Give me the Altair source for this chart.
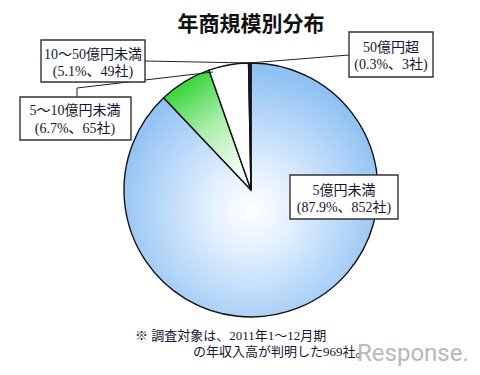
import altair as alt
import pandas as pd

categories = ["5億円未満", "5〜10億円未満", "10〜50億円未満", "50億円超"]
companies = [852, 65, 49, 3]
percents = [87.9, 6.7, 5.1, 0.3]
order = [1, 2, 3, 4]

df = pd.DataFrame({"cat": categories, "count": companies, "pct": percents, "order": order})

OX, OY = 8, 8  # page margin offset
CX, CY, R = 251 - OX, 190 - OY, 127

JP = "Liberation Serif, Noto Sans CJK JP"
TXT = "#15152e"

def slice_layer(cat, fill):
    return alt.Chart(df).transform_window(
        cum="sum(count)", sort=[alt.SortField("order")], frame=[None, 0]
    ).transform_joinaggregate(total="sum(count)").transform_calculate(
        t0="(datum.cum - datum.count) / datum.total * 2 * PI",
        t1="datum.cum / datum.total * 2 * PI",
    ).transform_filter(alt.datum.cat == cat).mark_arc(
        radius=R, fill=fill, stroke="#111111", strokeWidth=1.4
    ).encode(
        theta=alt.Theta("t0:Q", scale=None),
        theta2=alt.Theta2("t1:Q"),
        x=alt.value(CX), y=alt.value(CY),
    )

blue = {"gradient": "radial", "x1": 0.5, "y1": 0.58, "r1": 0, "x2": 0.5, "y2": 0.58, "r2": 0.55,
        "stops": [{"offset": 0, "color": "#ffffff"}, {"offset": 0.3, "color": "#e2f0fe"},
                  {"offset": 1, "color": "#8fc1f3"}]}
green = {"gradient": "linear", "x1": 0.2, "y1": 0, "x2": 0.7, "y2": 1,
         "stops": [{"offset": 0, "color": "#1ecf1e"}, {"offset": 0.5, "color": "#a8eea8"},
                   {"offset": 1, "color": "#ffffff"}]}

pie = [
    slice_layer(categories[0], blue),
    slice_layer(categories[1], green),
    slice_layer(categories[2], "#ffffff"),
    slice_layer(categories[3], "#1a1a5a"),
]

one = pd.DataFrame({"a": [0]})

def box(x0, y0, x1, y1):
    return alt.Chart(one).mark_rect(fill="white", stroke="#333333", strokeWidth=1.4).encode(
        x=alt.value(x0 - OX), x2=alt.value(x1 - OX), y=alt.value(y0 - OY), y2=alt.value(y1 - OY))

def line(x0, y0, x1, y1):
    return alt.Chart(one).mark_rule(color="#222222", strokeWidth=1).encode(
        x=alt.value(x0 - OX), x2=alt.value(x1 - OX), y=alt.value(y0 - OY), y2=alt.value(y1 - OY))

def text(s, x, y, size=14, weight="normal", color=TXT, align="center", font=JP):
    return alt.Chart(one).mark_text(text=s, fontSize=size, fontWeight=weight, color=color,
                                    align=align, baseline="middle", font=font).encode(
        x=alt.value(x - OX), y=alt.value(y - OY))

def lab(i):
    return f"({percents[i]}%、{companies[i]}社)"

layers = pie + [
    line(145, 61, 250, 63),
    line(349, 55, 249, 63),
    line(77, 97, 77, 88),
    line(77, 88, 213, 72),
    box(41, 40, 145, 82), text(categories[2], 93, 55), text(lab(2), 93, 72),
    box(349, 32, 433, 77), text(categories[3], 391, 48), text(lab(3), 391, 65),
    box(20, 97, 131, 140), text(categories[1], 75, 111), text(lab(1), 75, 129),
    box(290, 175, 398, 219), text(categories[0], 344, 191), text(lab(0), 344, 208),
    text("年商規模別分布", 251, 25, size=21, weight="bold", color="#111111", font="Noto Sans CJK JP"),
    text("※ 調査対象は、2011年1〜12月期", 135, 336, size=13, align="left"),
    text("の年収入高が判明した969社。", 193, 352, size=13, align="left"),
    text("Response.", 357, 354, size=24, color="#b8b8b8", align="left", font="Roboto"),
]

chart = alt.layer(*layers).properties(
    width=464, height=359, padding=0, autosize="none"
).configure_view(stroke=None)

chart.save("out.html", embed_options={"renderer": "svg", "actions": False})
